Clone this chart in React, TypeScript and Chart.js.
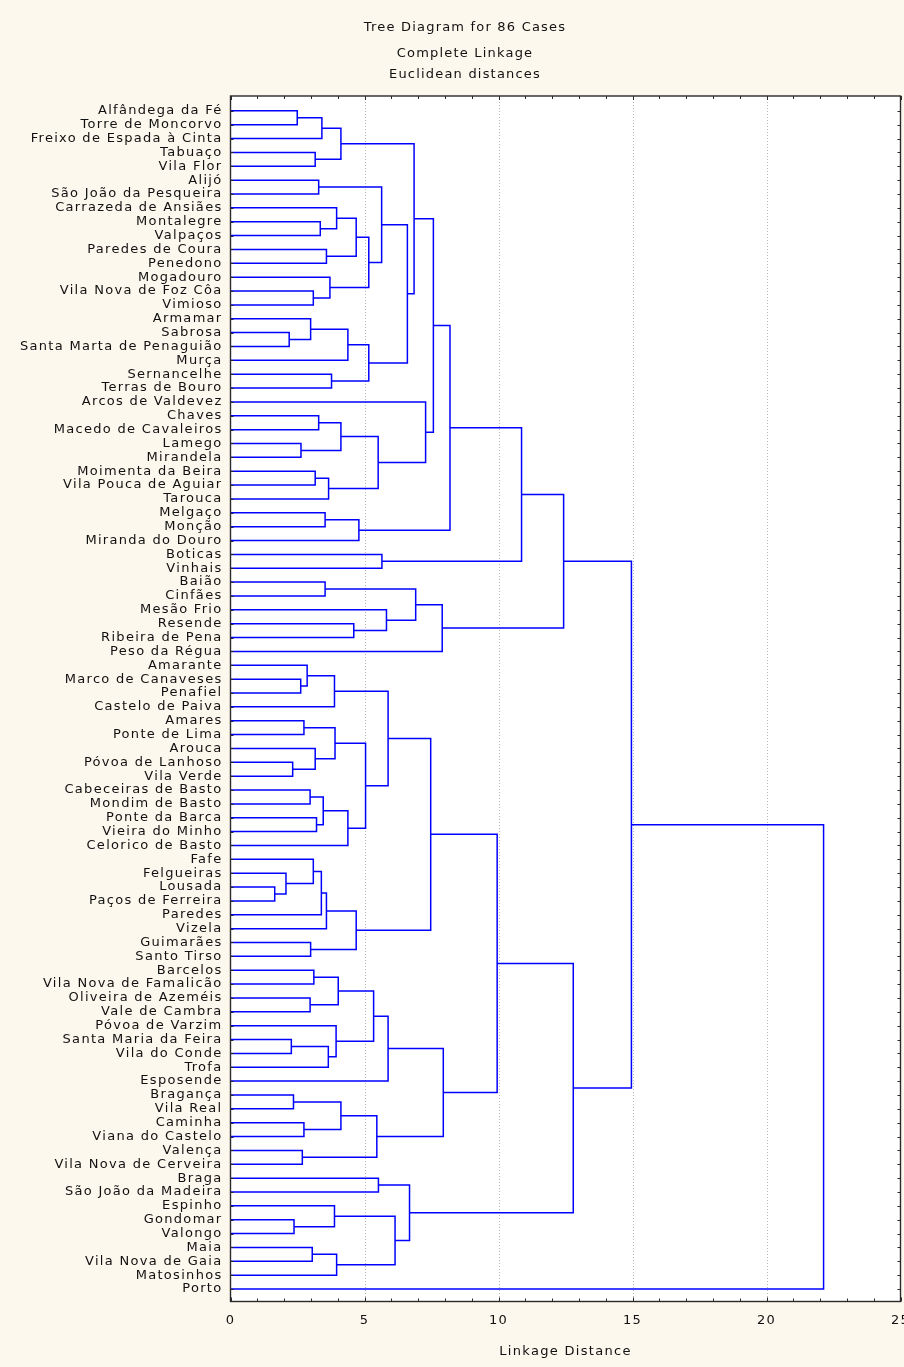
import React, { useEffect, useRef } from "react";
import { Chart, registerables } from "chart.js";

Chart.register(...registerables);

// ---------------- data ----------------
const leafLabels: string[] = [
  "Alfândega da Fé", "Torre de Moncorvo", "Freixo de Espada à Cinta", "Tabuaço", "Vila Flor",
  "Alijó", "São João da Pesqueira", "Carrazeda de Ansiães", "Montalegre", "Valpaços",
  "Paredes de Coura", "Penedono", "Mogadouro", "Vila Nova de Foz Côa", "Vimioso",
  "Armamar", "Sabrosa", "Santa Marta de Penaguião", "Murça", "Sernancelhe",
  "Terras de Bouro", "Arcos de Valdevez", "Chaves", "Macedo de Cavaleiros", "Lamego",
  "Mirandela", "Moimenta da Beira", "Vila Pouca de Aguiar", "Tarouca", "Melgaço",
  "Monção", "Miranda do Douro", "Boticas", "Vinhais", "Baião",
  "Cinfães", "Mesão Frio", "Resende", "Ribeira de Pena", "Peso da Régua",
  "Amarante", "Marco de Canaveses", "Penafiel", "Castelo de Paiva", "Amares",
  "Ponte de Lima", "Arouca", "Póvoa de Lanhoso", "Vila Verde", "Cabeceiras de Basto",
  "Mondim de Basto", "Ponte da Barca", "Vieira do Minho", "Celorico de Basto", "Fafe",
  "Felgueiras", "Lousada", "Paços de Ferreira", "Paredes", "Vizela",
  "Guimarães", "Santo Tirso", "Barcelos", "Vila Nova de Famalicão", "Oliveira de Azeméis",
  "Vale de Cambra", "Póvoa de Varzim", "Santa Maria da Feira", "Vila do Conde", "Trofa",
  "Esposende", "Bragança", "Vila Real", "Caminha", "Viana do Castelo",
  "Valença", "Vila Nova de Cerveira", "Braga", "São João da Madeira", "Espinho",
  "Gondomar", "Valongo", "Maia", "Vila Nova de Gaia", "Matosinhos",
  "Porto",
];

// Each merge joins leaf range [start..split] with [split+1..end] at the given linkage distance
const mergeStart: number[] = [
  0, 0, 3, 0, 5, 8, 7, 10, 7, 13, 12, 7, 5, 16, 15, 15, 19, 15, 5, 0,
  22, 24, 22, 26, 26, 22, 21, 0, 29, 29, 0, 32, 0, 34, 37, 36, 34, 34, 0,
  41, 40, 40, 44, 47, 46, 44, 49, 51, 49, 49, 44, 40, 56, 55, 54, 54, 54, 60, 54, 40,
  62, 64, 62, 67, 67, 66, 62, 62, 71, 73, 71, 75, 71, 62, 40,
  77, 80, 79, 82, 82, 79, 77, 40, 0, 0,
];
const mergeSplit: number[] = [
  0, 1, 3, 2, 5, 8, 7, 10, 9, 13, 12, 11, 6, 16, 15, 17, 19, 18, 14, 4,
  22, 24, 23, 26, 27, 25, 21, 20, 29, 30, 28, 32, 31, 34, 37, 36, 35, 38, 33,
  41, 40, 42, 44, 47, 46, 45, 49, 51, 50, 52, 48, 43, 56, 55, 54, 57, 58, 60, 59, 53,
  62, 64, 63, 67, 68, 66, 65, 69, 71, 73, 72, 75, 74, 70, 61,
  77, 80, 79, 82, 83, 81, 78, 76, 39, 84,
];
const mergeEnd: number[] = [
  1, 2, 4, 4, 6, 9, 9, 11, 11, 14, 14, 14, 14, 17, 17, 18, 20, 20, 20, 20,
  23, 25, 25, 27, 28, 28, 28, 28, 30, 31, 31, 33, 33, 35, 38, 38, 38, 39, 39,
  42, 42, 43, 45, 48, 48, 48, 50, 52, 52, 53, 53, 53, 57, 57, 57, 58, 59, 61, 61, 61,
  63, 65, 65, 68, 69, 69, 69, 70, 72, 74, 74, 76, 76, 76, 76,
  78, 81, 81, 83, 84, 84, 84, 84, 84, 85,
];
const mergeHeight: number[] = [
  2.49, 3.41, 3.16, 4.12, 3.29, 3.35, 3.96, 3.58, 4.69, 3.09, 3.71, 5.16, 5.64, 2.19, 2.99, 4.38, 3.77, 5.16, 6.60, 6.85,
  3.29, 2.63, 4.12, 3.16, 3.66, 5.51, 7.28, 7.57, 3.53, 4.79, 8.19, 5.65, 10.86, 3.53, 4.60, 5.82, 6.91, 7.90, 12.43,
  2.62, 2.86, 3.88, 2.74, 2.32, 3.16, 3.90, 2.97, 3.21, 3.46, 4.38, 5.04, 5.88, 1.65, 2.07, 3.09, 3.39, 3.58, 2.99, 4.69, 7.47,
  3.11, 2.97, 4.02, 2.27, 3.65, 3.94, 5.34, 5.88, 2.35, 2.74, 4.12, 2.68, 5.46, 7.94, 9.95,
  5.52, 2.37, 3.88, 3.05, 3.96, 6.14, 6.68, 12.79, 14.96, 22.13,
];

const xTickValues: number[] = [0, 5, 10, 15, 20, 25];
const xGridValues: number[] = [5, 10, 15, 20];
const titleLines: string[] = ["Tree Diagram for 86 Cases", "Complete Linkage", "Euclidean distances"];
const xAxisTitle = "Linkage Distance";

// ---------------- styling ----------------
const W = 904;
const H = 1367;
const FONT = "DejaVu Sans";
const LINE_COLOR = "#0000ff";
const BG = "#fdf8ee";

function buildDatasets() {
  const nodes = new Map<string, { h: number; y: number }>();
  leafLabels.forEach((_, i) => nodes.set(`${i}-${i}`, { h: 0, y: i }));
  const datasets: any[] = [];
  for (let k = 0; k < mergeHeight.length; k++) {
    const a = mergeStart[k];
    const m = mergeSplit[k];
    const b = mergeEnd[k];
    const h = mergeHeight[k];
    const L = nodes.get(`${a}-${m}`)!;
    const R = nodes.get(`${m + 1}-${b}`)!;
    datasets.push({
      data: [
        { x: L.h, y: L.y },
        { x: h, y: L.y },
        { x: h, y: R.y },
        { x: R.h, y: R.y },
      ],
      showLine: true,
      borderColor: LINE_COLOR,
      borderWidth: 1.5,
      pointRadius: 0,
      pointHoverRadius: 0,
      fill: false,
      tension: 0,
    });
    nodes.set(`${a}-${b}`, { h, y: (L.y + R.y) / 2 });
  }
  return datasets;
}

const decorPlugin = {
  id: "decor",
  beforeDraw(chart: any) {
    const { ctx, chartArea } = chart;
    ctx.save();
    ctx.fillStyle = BG;
    ctx.fillRect(0, 0, W, H);
    ctx.fillStyle = "#ffffff";
    ctx.fillRect(chartArea.left, chartArea.top, chartArea.right - chartArea.left, chartArea.bottom - chartArea.top);
    ctx.restore();
    (ctx as any).letterSpacing = "1.3px";
  },
  beforeDatasetsDraw(chart: any) {
    const { ctx, chartArea, scales } = chart;
    ctx.save();
    ctx.strokeStyle = "#b8b8b8";
    ctx.lineWidth = 1;
    ctx.setLineDash([1, 2]);
    xGridValues.forEach((v) => {
      const px = Math.round(scales.x.getPixelForValue(v)) + 0.5;
      ctx.beginPath();
      ctx.moveTo(px, chartArea.top);
      ctx.lineTo(px, chartArea.bottom);
      ctx.stroke();
    });
    ctx.restore();
  },
  afterDraw(chart: any) {
    const { ctx, chartArea, scales } = chart;
    const { left, right, top, bottom } = chartArea;
    ctx.save();
    ctx.strokeStyle = "#2a2a2a";
    ctx.lineWidth = 1.4;
    ctx.setLineDash([]);
    ctx.strokeRect(left, top, right - left, bottom - top);
    ctx.lineWidth = 1;
    ctx.beginPath();
    for (let v = 0; v <= 25; v++) {
      const px = Math.round(scales.x.getPixelForValue(v)) + 0.5;
      const len = v % 5 === 0 ? 4 : 3;
      ctx.moveTo(px, bottom);
      ctx.lineTo(px, bottom - len);
      ctx.moveTo(px, top);
      ctx.lineTo(px, top + len);
    }
    leafLabels.forEach((_, i) => {
      const py = Math.round(scales.y.getPixelForValue(i)) + 0.5;
      ctx.moveTo(left, py);
      ctx.lineTo(left + 3, py);
      ctx.moveTo(right, py);
      ctx.lineTo(right - 3, py);
    });
    ctx.stroke();

    // titles: set spacing first, then the font
    (ctx as any).letterSpacing = "1.2px";
    ctx.font = `normal 13px ${FONT}`;
    ctx.fillStyle = "#111";
    ctx.textAlign = "center";
    ctx.textBaseline = "middle";
    const ys = [27.5, 53.5, 74.5];
    titleLines.forEach((t, i) => ctx.fillText(t, 465, ys[i]));
    ctx.restore();
  },
};

export default function App() {
  const ref = useRef<HTMLCanvasElement | null>(null);
  useEffect(() => {
    if (!ref.current) return;
    const font = { family: FONT, size: 13 };
    const chart = new Chart(ref.current, {
      type: "scatter",
      data: { datasets: buildDatasets() },
      options: {
        responsive: false,
        maintainAspectRatio: false,
        animation: false,
        events: [],
        layout: { padding: { top: 96, left: 0, right: 3.5, bottom: 0 } },
        plugins: {
          legend: { display: false },
          tooltip: { enabled: false },
          title: { display: false },
        },
        scales: {
          x: {
            type: "linear",
            position: "bottom",
            min: 0,
            max: 25,
            afterBuildTicks: (s: any) => {
              s.ticks = xTickValues.map((v) => ({ value: v }));
            },
            afterFit: (s: any) => {
              s.height = H - 1301.5;
              s.paddingLeft = 0;
              s.paddingRight = 0;
            },
            grid: { display: false, drawTicks: false },
            border: { display: false },
            ticks: { font, color: "#111", padding: 11.5, maxRotation: 0, autoSkip: false },
            title: {
              display: true,
              text: xAxisTitle,
              font,
              color: "#111",
              padding: { top: 0, bottom: 7.2 },
            },
          },
          y: {
            type: "linear",
            min: -1.07,
            max: 85.9,
            reverse: true,
            afterBuildTicks: (s: any) => {
              s.ticks = leafLabels.map((_, i) => ({ value: i }));
            },
            afterFit: (s: any) => {
              s.width = 230.5;
              s.paddingTop = 0;
              s.paddingBottom = 0;
            },
            grid: { display: false, drawTicks: false },
            border: { display: false },
            ticks: {
              font,
              color: "#111",
              padding: 8,
              autoSkip: false,
              callback: (v: any) => leafLabels[Number(v)] ?? "",
            },
          },
        },
      },
      plugins: [decorPlugin],
    });
    return () => chart.destroy();
  }, []);

  return (
    <div style={{ position: "absolute", left: 0, top: 0, width: W, height: H, background: BG }}>
      <canvas ref={ref} width={W} height={H} style={{ width: W, height: H, display: "block" }} />
    </div>
  );
}
